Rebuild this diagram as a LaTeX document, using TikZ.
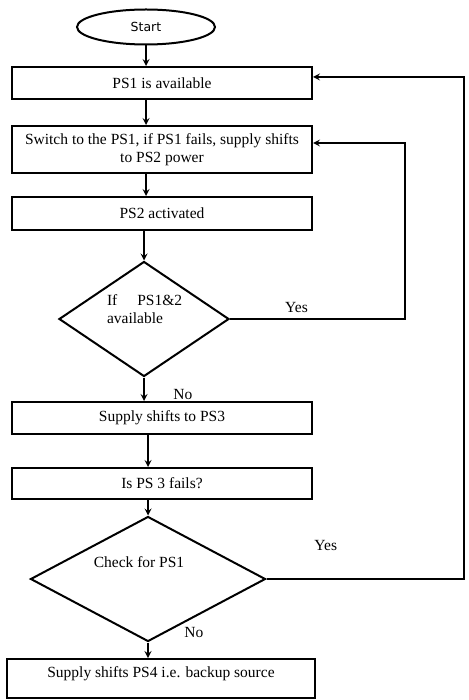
\documentclass[tikz,border=0pt]{standalone}
\usepackage{fontspec}
\setmainfont{Liberation Serif}
\newfontfamily\startfont{DejaVu Sans}
\usepackage{tikz}
\usetikzlibrary{shapes.geometric, positioning}

\begin{document}
\begin{tikzpicture}[->,>=stealth,x=1pt,y=1pt,line width=2pt,
                    font=\fontsize{15.5}{18}\selectfont,
                    block/.style={rectangle,draw,minimum width=300pt,minimum height=32pt,inner sep=2pt},
                    decision/.style={diamond,draw,inner sep=0pt},
                    term/.style={ellipse,draw,minimum width=138pt,minimum height=35pt,
                                 font=\startfont\fontsize{12.5}{14}\selectfont}]

  \useasboundingbox (0,0) rectangle (468,-700);

  \node[term] (start) at (146,-27) {Start};
  \node[block] (avail) [below of=start, node distance=56pt, xshift=16pt] {PS1 is available};
  \node[block, minimum height=47pt, align=center] (switch) [below of=avail, node distance=66.5pt]
       {Switch to the PS1, if PS1 fails, supply shifts\\to PS2 power};
  \node[block, minimum height=33pt] (act) [below of=switch, node distance=64pt] {PS2 activated};
  \node[decision, minimum width=170pt, minimum height=115pt] (check1) [below of=act, node distance=105.5pt, xshift=-18pt] {};
  \node[block] (ps3) [below of=check1, node distance=99pt, xshift=18pt] {Supply shifts to PS3};
  \node[block, minimum height=31pt] (fail) [below of=ps3, node distance=65.5pt] {Is PS 3 fails?};
  \node[decision, minimum width=235pt, minimum height=125pt] (check2) [below of=fail, node distance=95.5pt, xshift=-14pt] {};
  \node[block, minimum width=308pt, minimum height=39pt, text height=11pt, text depth=13pt] (ps4)
       [below of=check2, node distance=99.5pt, xshift=13pt] {Supply shifts PS4 i.e. backup source};

  % texts in the diamonds
  \node[align=left, anchor=west, inner sep=0pt] (check1txt) at ([xshift=-38pt, yshift=10pt]check1.center)
       {If\hspace{20pt}PS1\&2\\available};
  \node (check2txt) at ([xshift=-9pt, yshift=17pt]check2.center) {Check for PS1};

  \coordinate (loopa) at ([xshift=92pt, yshift=6.5pt]switch.east);
  \coordinate (loopb) at ([xshift=151pt, yshift=6pt]avail.east);

   \path
     (start) edge (avail.north -| start)
     (avail.south -| start) edge (switch.north -| start)
     (switch.south -| start) edge (act.north -| start)
     (act.south -| check1) edge (check1)
     (check1) edge node [pos=0.72, right=25pt] {No} (ps3.north -| check1)
     (ps3.south -| check2) edge (fail.north -| check2)
     (fail.south -| check2) edge (check2)
     (check2) edge node [pos=0, right=32pt, yshift=10pt] {No} (ps4.north -| check2);

  \draw (check1.east) -| node [pos=0.19, above=2pt] {Yes} (loopa) -- ([yshift=6.5pt]switch.east);
  \draw (check2.east) -| node [pos=0.15, above=24pt] {Yes} (loopb) -- ([yshift=6pt]avail.east);
\end{tikzpicture}
\end{document}
